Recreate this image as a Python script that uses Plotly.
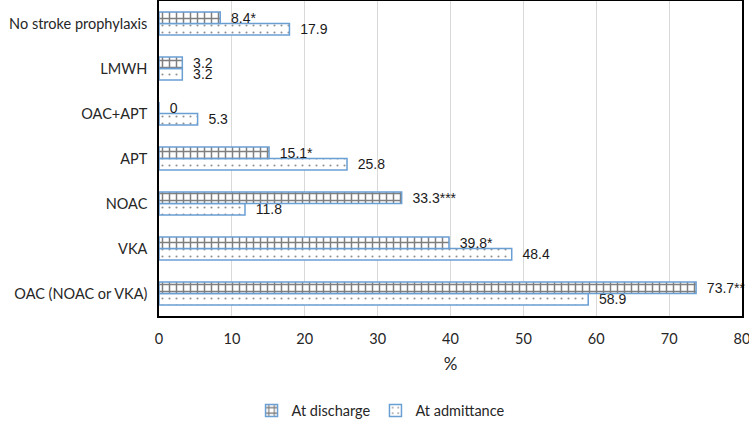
import plotly.graph_objects as go

categories = ["OAC (NOAC or VKA)", "VKA", "NOAC", "APT", "OAC+APT", "LMWH", "No stroke prophylaxis"]
discharge = [73.7, 39.8, 33.3, 15.1, 0, 3.2, 8.4]
discharge_labels = ["73.7**", "39.8*", "33.3***", "15.1*", "0", "3.2", "8.4*"]
admittance = [58.9, 48.4, 11.8, 25.8, 5.3, 3.2, 17.9]
admittance_labels = ["58.9", "48.4", "11.8", "25.8", "5.3", "3.2", "17.9"]

border_blue = "#6a9fd4"
label_font = dict(family="Liberation Sans, Arial", size=14, color="#1a1a1a")

fig = go.Figure()

# horizontal bars: the first trace sits lower in each group
fig.add_trace(go.Bar(
    y=categories, x=admittance, orientation="h", name="At admittance",
    text=["  " + t for t in admittance_labels], textposition="outside", textfont=label_font,
    cliponaxis=False, constraintext="none", legendrank=2,
    marker=dict(color="white", line=dict(color=border_blue, width=1.5),
                pattern=dict(shape=".", fgcolor="#222222", bgcolor="white",
                             size=7, solidity=0.07)),
))
fig.add_trace(go.Bar(
    y=categories, x=discharge, orientation="h", name="At discharge",
    text=["  " + t for t in discharge_labels], textposition="outside", textfont=label_font,
    cliponaxis=False, constraintext="none", legendrank=1,
    marker=dict(color="white", line=dict(color=border_blue, width=1.5),
                pattern=dict(shape="+", fgcolor="black", bgcolor="white",
                             size=7, solidity=0.38)),
))

fig.update_layout(
    width=749, height=421,
    margin=dict(l=159, r=7, t=1, b=105, autoexpand=False),
    paper_bgcolor="white", plot_bgcolor="white",
    barmode="group", bargap=0.49, bargroupgap=0,
    font=dict(family="Lato, Open Sans, sans-serif", size=14.5, color="#262626"),
    showlegend=True,
    legend=dict(orientation="h", x=0.38, xanchor="center", y=-0.3, yanchor="middle",
                font=dict(size=14.5), itemwidth=30, traceorder="normal"),
    xaxis=dict(range=[0, 80], dtick=10, showgrid=True, gridcolor="#d9d9d9", gridwidth=1,
               showline=True, linecolor="black", linewidth=1.5, mirror=True,
               ticks="", zeroline=False, automargin=False,
               ticklabelstandoff=9, ticklabeloverflow="allow",
               title=dict(text="%", standoff=12)),
    yaxis=dict(categoryorder="array", categoryarray=categories,
               showline=True, linecolor="black", linewidth=1.5, mirror=True,
               ticks="", showgrid=False, automargin=False, ticklabelstandoff=7),
)

# drop the default page margin so the figure sits at the window corner
fig.write_html("out.html", config={"displayModeBar": False},
               post_script="document.body.style.margin='0';")
